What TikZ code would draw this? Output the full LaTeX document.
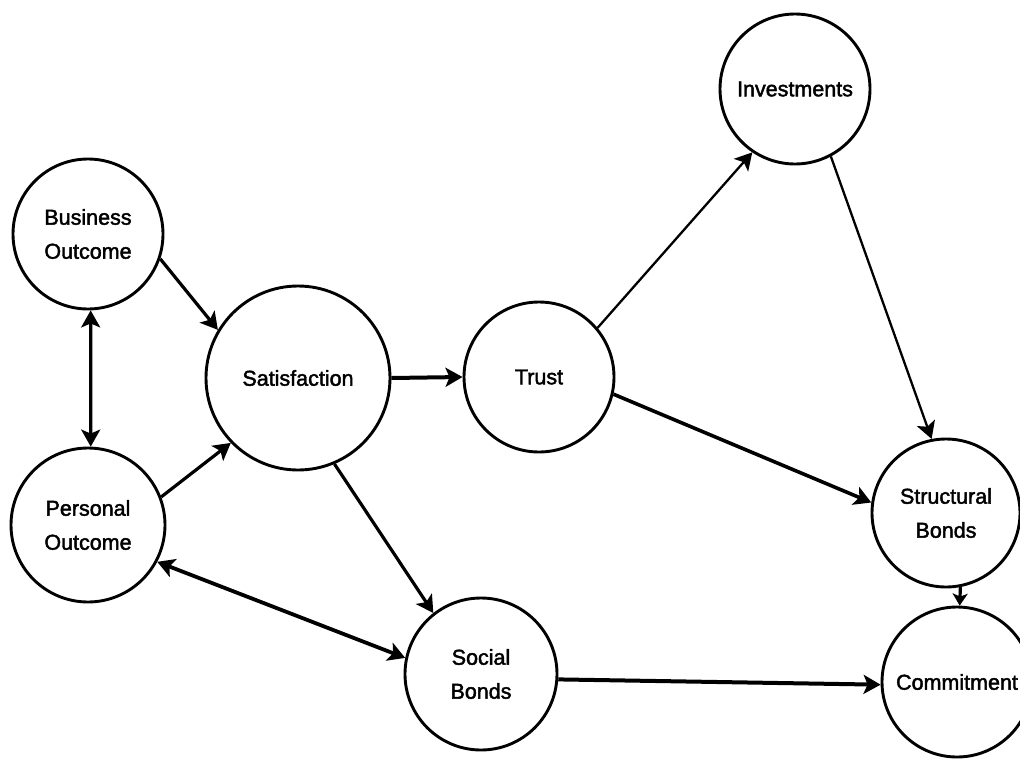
\documentclass[tikz,border=0pt]{standalone}
\usepackage{fontspec}
\setmainfont{Liberation Sans}
\newfontfamily\bubblefont[FakeBold=2]{Liberation Sans}
\usetikzlibrary{arrows.meta}
\begin{document}
\begin{tikzpicture}[x=1pt,y=-1pt,
  tip/.tip={Stealth[length=17pt,width=19pt,inset=4pt]},
  bubble/.style={circle,draw,line width=2.9pt,inner sep=0pt,align=center,
    font=\bubblefont\fontsize{21.5}{34}\selectfont},
  link/.style={line width=3.2pt,-tip},
  heavy/.style={link,line width=4pt},
  light/.style={link,line width=2.3pt},
  both/.style={line width=3.2pt,tip-tip}]
\path[use as bounding box] (0,0) rectangle (1020,758);
% constructs
\node[bubble,minimum size=150pt] (bo)    at (88,234)  {Business\\Outcome};
\node[bubble,minimum size=154pt] (po)    at (88,525)  {Personal\\Outcome};
\node[bubble,minimum size=184pt] (sat)   at (298,378) {Satisfaction};
\node[bubble,minimum size=150pt] (trust) at (539,377) {Trust};
\node[bubble,minimum size=150pt] (inv)   at (795,89)  {Investments};
\node[bubble,minimum size=148pt] (sb)    at (946,513) {Structural\\Bonds};
\node[bubble,minimum size=152pt] (soc)   at (481,674) {Social\\Bonds};
\node[bubble,minimum size=150pt] (com)   at (957,682) {Commitment};
% paths
\draw[link]  (bo.-19)    -- (sat.149);
\draw[both]  (bo.272)    -- (po.88);
\draw[link]  (po.21)     -- (sat.224);
\draw[heavy] (sat.east)  -- (trust.west);
\draw[link]  (sat.-67)   -- (soc.128);
\draw[both,line width=3.8pt] (po.-28) -- (soc.168);
\draw[light] (trust.40)  -- (inv.-124);
\draw[light] (inv.-62)   -- (sb.101);
\draw[link,line width=3.6pt] (trust.-13) -- (sb.172);
\draw[link,-{Stealth[length=12pt,width=15pt,inset=3pt]}] (sb.-79) -- (com.88);
\draw[heavy] (soc.-4)    -- (com.182);
\end{tikzpicture}
\end{document}
